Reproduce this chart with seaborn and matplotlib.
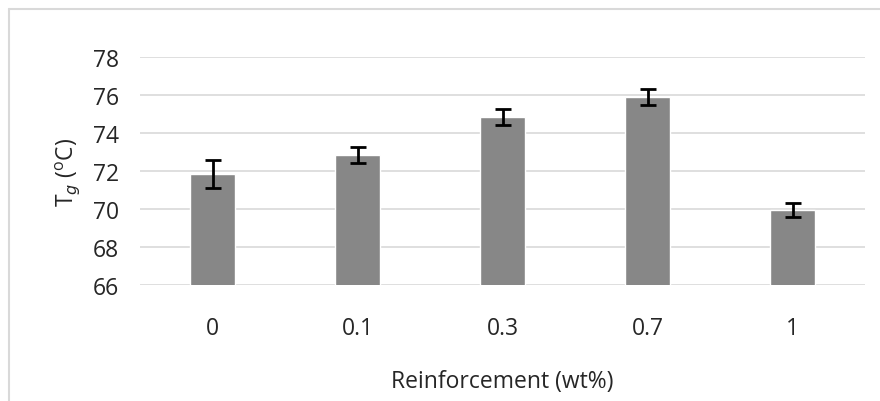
import matplotlib
matplotlib.use("Agg")
import matplotlib.pyplot as plt
import pandas as pd
import seaborn as sns
from matplotlib.lines import Line2D

loadings = ["0", "0.1", "0.3", "0.7", "1"]
tg_mean = [71.85, 72.82, 74.85, 75.92, 69.95]
tg_err = [0.75, 0.42, 0.43, 0.42, 0.35]


def main() -> None:
    sns.set_theme(style="white")
    plt.rcParams["font.family"] = ["Open Sans", "DejaVu Sans"]

    df = pd.DataFrame({"loading": loadings, "tg": tg_mean})

    fig = plt.figure(figsize=(8.8, 4.02), dpi=100)
    ax = fig.add_axes([140 / 880, 1 - 286 / 402, 725 / 880, 228 / 402])

    sns.barplot(data=df, x="loading", y="tg", color="#878787", saturation=1,
                width=0.31, ax=ax, errorbar=None, zorder=2)
    ax.errorbar(range(len(loadings)), tg_mean, yerr=tg_err, fmt="none",
                ecolor="black", elinewidth=2, capsize=6, capthick=2, zorder=3)

    ax.set_xlim(-0.5, len(loadings) - 0.5)
    ax.set_ylim(66, 78)
    ax.set_yticks(range(66, 79, 2))
    ax.yaxis.grid(True, color="#d9d9d9", linewidth=1.2, zorder=0)
    ax.set_axisbelow(True)
    for side in ["top", "right", "left", "bottom"]:
        ax.spines[side].set_visible(False)
    ax.tick_params(axis="both", length=0, labelsize=16.5, labelcolor="#262626")
    ax.tick_params(axis="x", pad=22)
    ax.tick_params(axis="y", pad=15)

    ax.set_xlabel("Reinforcement (wt%)", fontsize=16.5, color="#262626", labelpad=21)
    ax.set_ylabel(r"T$_g$ ($^\mathregular{o}$C)", fontsize=16.5, color="#262626", labelpad=8)

    border = dict(transform=fig.transFigure, color="#d9d9d9", linewidth=1.5)
    fig.lines.append(Line2D([9 / 880, 1], [1 - 10 / 402] * 2, **border))
    fig.lines.append(Line2D([9 / 880] * 2, [0, 1 - 10 / 402], **border))

    fig.savefig("out.png", dpi=100)
    plt.close(fig)


if __name__ == "__main__":
    main()
